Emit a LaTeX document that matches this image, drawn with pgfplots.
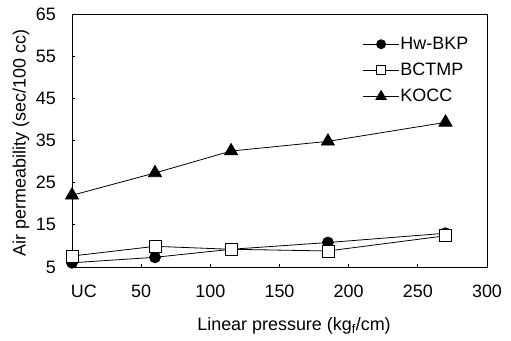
\documentclass[border=0pt]{standalone}
\usepackage{fontspec}
\setmainfont{Liberation Sans}
\usepackage{pgfplots}
\pgfplotsset{compat=1.18}

\begin{document}
\fontsize{18}{21}\selectfont
\begin{tikzpicture}
\begin{axis}[
  scale only axis,
  width=415bp, height=253bp,
  xmin=0, xmax=300, ymin=5, ymax=65,
  xtick={0,50,100,150,200,250,300},
  xticklabels={\makebox[0pt][l]{\hspace{-1bp}UC},50,100,150,200,250,300},
  ytick={5,15,25,35,45,55,65},
  xtick pos=bottom, ytick pos=left,
  tick align=inside,
  major tick length=3bp,
  axis line style={line width=0.9bp},
  tick style={line width=0.7bp, black},
  /pgf/number format/assume math mode=true,
  xticklabel style={yshift=-12bp},
  yticklabel style={xshift=-10bp},
  xlabel={Linear pressure (kg\textsubscript{f}/cm)},
  ylabel={Air permeability (sec/100 cc)},
  every axis x label/.style={at={(axis description cs:0.535,-0.25)}, anchor=base},
  every axis y label/.style={at={(axis description cs:-0.123,0.49)}, anchor=center, rotate=90},
  legend style={draw=none, fill=none, at={(axis description cs:0.70,0.915)}, anchor=north west,
    row sep=9bp, inner sep=0pt, nodes={inner sep=1bp}},
  legend cell align=left,
  legend image code/.code={
    \draw[mark repeat=2, mark phase=2] plot coordinates {(0bp,0bp) (18bp,0bp) (36bp,0bp)};
  },
  every axis plot/.append style={black, line width=0.8bp},
]
% Hw-BKP
\addplot[mark=*, mark size=5.5bp, mark options={fill=black}, legend image post style={mark size=4.5bp}]
  coordinates {(0,6.0) (60,7.3) (115,9.2) (185,10.8) (270,13.0)};
\addlegendentry{Hw-BKP}
% BCTMP
\addplot[mark=square*, mark size=6bp, mark options={fill=white}, legend image post style={mark size=4.5bp}]
  coordinates {(0,7.6) (60,9.9) (115,9.2) (185,8.8) (270,12.4)};
\addlegendentry{BCTMP}
% KOCC
\addplot[mark=triangle*, mark size=7.5bp, mark options={fill=black}, legend image post style={mark size=6bp}]
  coordinates {(0,22.0) (60,27.3) (115,32.5) (185,34.8) (270,39.3)};
\addlegendentry{KOCC}
\end{axis}
\pgfresetboundingbox
\useasboundingbox (current axis.south west) ++(-72bp,-74bp) rectangle ([shift={(24bp,14bp)}]current axis.north east);
\end{tikzpicture}
\end{document}
